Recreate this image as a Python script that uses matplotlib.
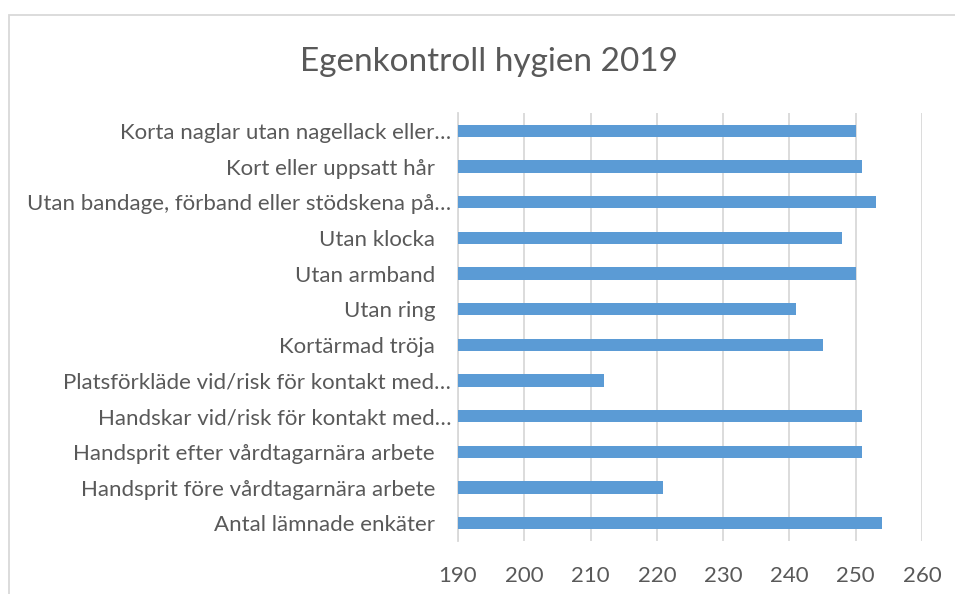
import matplotlib
matplotlib.use("Agg")
import matplotlib.pyplot as plt
from matplotlib.patches import Rectangle
from matplotlib.transforms import ScaledTranslation

categories = [
    "Antal lämnade enkäter",
    "Handsprit före vårdtagarnära arbete",
    "Handsprit efter vårdtagarnära arbete",
    "Handskar vid/risk för kontakt med…",
    "Platsförkläde vid/risk för kontakt med…",
    "Kortärmad tröja",
    "Utan ring",
    "Utan armband",
    "Utan klocka",
    "Utan bandage, förband eller stödskena på…",
    "Kort eller uppsatt hår",
    "Korta naglar utan nagellack eller…",
]
values = [254, 221, 251, 251, 212, 245, 241, 250, 248, 253, 251, 250]
xticks = [190, 200, 210, 220, 230, 240, 250, 260]
title = "Egenkontroll hygien 2019"

plt.rcParams['font.family'] = ['Lato', 'DejaVu Sans']
TXT = '#595959'
GRID = '#d9d9d9'
BAR = '#5b9bd5'

fig = plt.figure(figsize=(9.55, 5.94), dpi=100)
ax = fig.add_axes([458/955, 1-541/594, (922-458)/955, (541-113)/594])

pos = list(range(len(categories)))
ax.barh(pos, [v - 190 for v in values], left=190, height=0.35, color=BAR, zorder=3)
ax.set_xlim(190, 260)
ax.set_ylim(-0.5, len(categories) - 0.5)
ax.set_xticks(xticks)
ax.set_xticklabels([str(t) for t in xticks])
ax.set_yticks(pos)
ax.set_yticklabels(categories)
ax.grid(axis='x', color=GRID, linewidth=1.3, zorder=0)
for s in ['top', 'right', 'bottom']:
    ax.spines[s].set_visible(False)
ax.spines['left'].set_color(GRID)
ax.spines['left'].set_linewidth(1.3)
ax.tick_params(axis='both', length=0, colors=TXT)
ax.tick_params(axis='y', labelsize=16, pad=5)
ax.tick_params(axis='x', labelsize=16, pad=18)

shift = ScaledTranslation(-16/100, 0, fig.dpi_scale_trans)
for lab in ax.get_yticklabels():
    if not lab.get_text().endswith('…'):
        lab.set_transform(lab.get_transform() + shift)

fig.text(489/955, 1-62/594, title, ha='center', va='center', fontsize=24, color=TXT)

fig.patches.append(Rectangle((9/955, -0.1), 1.2, 1-15/594+0.1, transform=fig.transFigure,
                             fill=False, edgecolor=GRID, linewidth=1.3, figure=fig))

fig.savefig('out.png', dpi=100)
